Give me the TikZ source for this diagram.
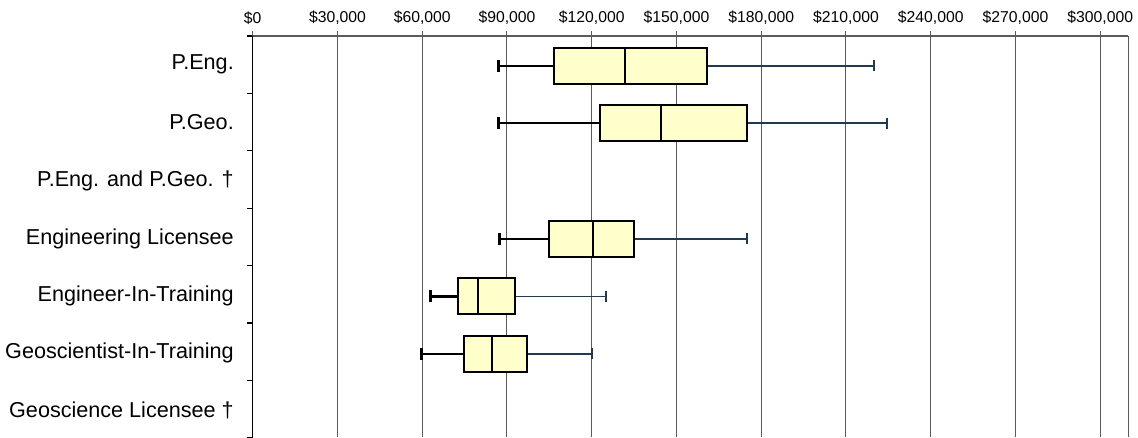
\documentclass[tikz,border=0pt]{standalone}
\usepackage{fontspec}
\setmainfont{Liberation Sans}
\definecolor{boxfill}{HTML}{FFFFCC}
\definecolor{navyw}{HTML}{1F3B53}
\definecolor{gridc}{HTML}{5A5A5A}
\tikzset{
  gridline/.style={draw=gridc, line width=0.8pt},
  axisline/.style={draw=black, line width=1pt},
  lwhisk/.style={draw=black, line width=1.8pt},
  lcap/.style={draw=black, line width=2.3pt},
  rwhisk/.style={draw=navyw, line width=1.2pt},
  rcap/.style={draw=navyw, line width=1.5pt},
  boxst/.style={draw=black, line width=1.6pt, fill=boxfill},
  medst/.style={draw=black, line width=1.6pt},
  catlabel/.style={anchor=east, inner sep=0pt, font=\fontsize{16.2pt}{19pt}\selectfont},
  ticklabel/.style={anchor=center, inner sep=0pt, font=\fontsize{11.8pt}{14pt}\selectfont},
}
% #1 y, #2 lo, #3 q1, #4 med, #5 q3, #6 hi  (values in thousands)
\newcommand{\boxrow}[6]{%
  \draw[lwhisk] (#2,#1) -- (#3,#1);
  \draw[lcap] (#2,#1-6) -- (#2,#1+6);
  \draw[rwhisk] (#5,#1) -- (#6,#1);
  \draw[rcap] (#6,#1-5.5) -- (#6,#1+5.5);
  \draw[boxst] (#3,#1-18) rectangle (#5,#1+18);
  \draw[medst] (#4,#1-18) -- (#4,#1+18);
}
\begin{document}
\begin{tikzpicture}[x=0.75pt,y=-0.75pt]
\useasboundingbox (0,0) rectangle (1138,437);
% category labels
\node[catlabel] (c1) at (234,64.7) {P.Eng.};
\node[catlabel] (c2) at (234,122.1) {P.Geo.};
\node[catlabel] (c3) at (234,181) {P.Eng. and P.Geo. †};
\node[catlabel] (c4) at (234,238.5) {Engineering Licensee};
\node[catlabel] (c5) at (234,295.5) {Engineer-In-Training};
\node[catlabel] (c6) at (234,353) {Geoscientist-In-Training};
\node[catlabel] (c7) at (234,410) {Geoscience Licensee †};
% left axis ticks
\foreach \k in {0,...,7} {
  \draw[axisline] (247,36+57.4*\k) -- (253,36+57.4*\k);
}
\begin{scope}[xshift=189.525pt, x=2.11875pt]
  % gridlines
  \foreach \v in {30,60,...,300} {
    \draw[gridline] (\v,36) -- (\v,437);
  }
  % top ticks
  \foreach \v in {0,30,...,300} {
    \draw[gridline] (\v,31) -- (\v,36);
  }
  \draw[gridline] (0,36) -- (310,36);
  \draw[gridline] (310,36) -- (310,437);
  \draw[axisline] (0,36) -- (0,437);
  % tick labels
  \node[ticklabel] (t0) at (0,18) {\$0};
  \node[ticklabel] (t1) at (30,18) {\$30,000};
  \node[ticklabel] (t2) at (60,18) {\$60,000};
  \node[ticklabel] (t3) at (90,18) {\$90,000};
  \node[ticklabel] (t4) at (120,18) {\$120,000};
  \node[ticklabel] (t5) at (150,18) {\$150,000};
  \node[ticklabel] (t6) at (180,18) {\$180,000};
  \node[ticklabel] (t7) at (210,18) {\$210,000};
  \node[ticklabel] (t8) at (240,18) {\$240,000};
  \node[ticklabel] (t9) at (270,18) {\$270,000};
  \node[ticklabel] (t10) at (300,18) {\$300,000};
  % boxes
  \boxrow{65.8}{86.9}{106.7}{131.9}{160.7}{220}
  \boxrow{123}{86.9}{123}{144.4}{175}{224.6}
  \boxrow{238.7}{87.3}{104.9}{120.5}{135.1}{175}
  \boxrow{296.3}{62.9}{72.8}{79.9}{92.8}{125}
  \boxrow{353.8}{59.9}{74.9}{84.8}{97}{120}
\end{scope}
\end{tikzpicture}
\end{document}
